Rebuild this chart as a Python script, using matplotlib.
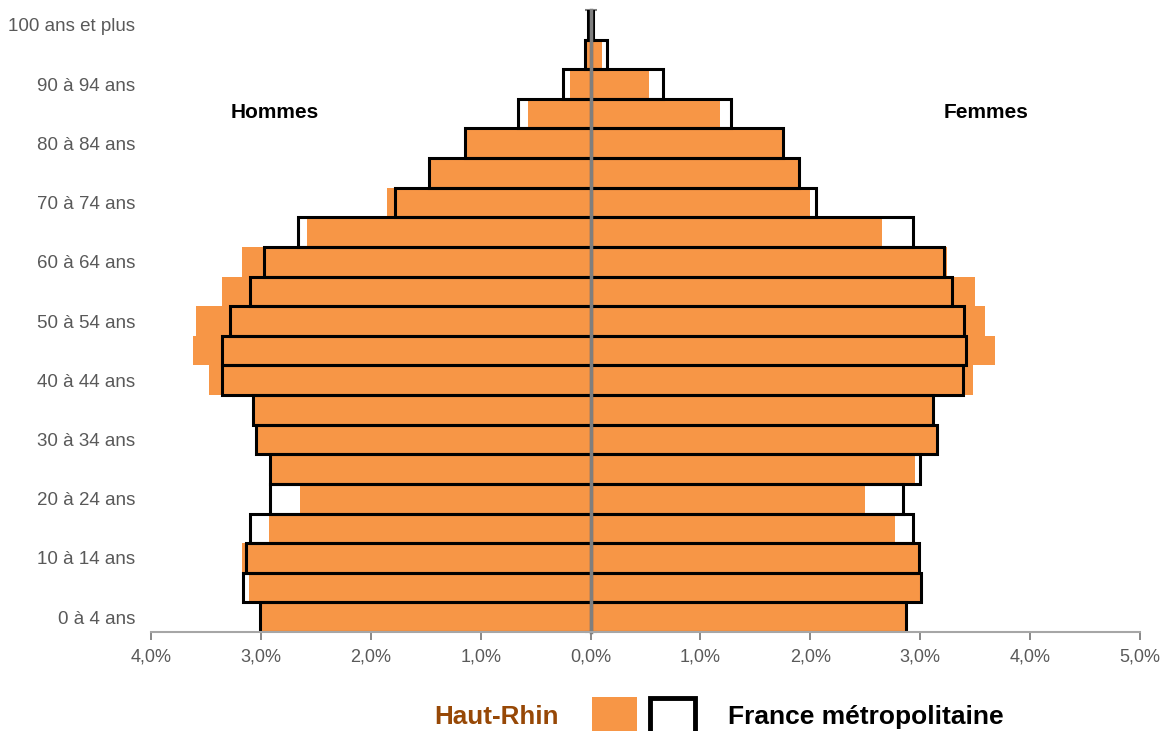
import matplotlib
matplotlib.use("Agg")
import matplotlib.pyplot as plt
from matplotlib.patches import Rectangle
from matplotlib.ticker import FixedLocator, FuncFormatter
import numpy as np

plt.rcParams['font.family'] = ['Liberation Sans', 'DejaVu Sans']

age_groups = ["0 à 4 ans", "5 à 9 ans", "10 à 14 ans", "15 à 19 ans", "20 à 24 ans",
              "25 à 29 ans", "30 à 34 ans", "35 à 39 ans", "40 à 44 ans", "45 à 49 ans",
              "50 à 54 ans", "55 à 59 ans", "60 à 64 ans", "65 à 69 ans", "70 à 74 ans",
              "75 à 79 ans", "80 à 84 ans", "85 à 89 ans", "90 à 94 ans", "95 à 99 ans",
              "100 ans et plus"]

# Haut-Rhin (% of population)
hr_hommes = [3.00, 3.11, 3.17, 2.93, 2.64, 2.90, 3.03, 3.06, 3.47, 3.62, 3.59, 3.35,
             3.17, 2.58, 1.85, 1.46, 1.12, 0.57, 0.19, 0.03, 0.01]
hr_femmes = [2.86, 3.00, 2.98, 2.77, 2.50, 2.95, 3.14, 3.12, 3.48, 3.68, 3.59, 3.50,
             3.24, 2.65, 2.00, 1.90, 1.75, 1.18, 0.53, 0.10, 0.02]
# France métropolitaine
fr_hommes = [3.01, 3.16, 3.14, 3.10, 2.92, 2.92, 3.04, 3.07, 3.35, 3.35, 3.28, 3.10,
             2.97, 2.66, 1.78, 1.47, 1.14, 0.66, 0.25, 0.05, 0.02]
fr_femmes = [2.87, 3.01, 2.99, 2.93, 2.84, 3.00, 3.15, 3.12, 3.39, 3.42, 3.40, 3.29,
             3.22, 2.93, 2.05, 1.90, 1.75, 1.28, 0.66, 0.15, 0.025]

xticks = [-4, -3, -2, -1, 0, 1, 2, 3, 4, 5]

ORANGE = '#F79646'
GRAY = '#7F7F7F'
TXT = '#595959'

fig = plt.figure(figsize=(11.6, 7.31), dpi=100)
ax = fig.add_axes([151/1160, 1-632/731, (1140-151)/1160, (632-10)/731])

y = np.arange(len(age_groups))
ax.barh(y, -np.array(hr_hommes), height=1.0, color=ORANGE, linewidth=0, zorder=1)
ax.barh(y, np.array(hr_femmes), height=1.0, color=ORANGE, linewidth=0, zorder=1)
ax.barh(y, -np.array(fr_hommes), height=1.0, fill=False, edgecolor='black', linewidth=2.2, zorder=2)
ax.barh(y, np.array(fr_femmes), height=1.0, fill=False, edgecolor='black', linewidth=2.2, zorder=2)

ax.set_xlim(-4, 5)
ax.set_ylim(-0.5, len(age_groups) - 0.5)

ax.set_xticks(xticks)
ax.xaxis.set_major_formatter(FuncFormatter(lambda v, p: f"{abs(v):.1f}%".replace('.', ',')))
ax.tick_params(axis='x', colors=GRAY, labelcolor=TXT, labelsize=13, length=6, width=1.3, pad=6)

ax.set_yticks(y[::2])
ax.set_yticklabels(age_groups[::2])
ax.yaxis.set_minor_locator(FixedLocator(np.arange(-0.5, len(age_groups), 1.0)))
ax.tick_params(axis='y', which='major', left=True, right=False, length=0, labelsize=13.5,
               labelcolor=TXT, pad=11.5)
ax.tick_params(axis='y', which='minor', left=False, right=True, direction='inout',
               length=9, width=1.5, color=GRAY)
for lbl in ax.get_yticklabels():
    lbl.set_y(lbl.get_position()[1])

for s in ['top', 'left']:
    ax.spines[s].set_visible(False)
ax.spines['right'].set_position(('data', 0))
ax.spines['right'].set_color(GRAY)
ax.spines['right'].set_linewidth(2.5)
ax.spines['bottom'].set_color('#A6A6A6')
ax.spines['bottom'].set_linewidth(1.5)

fig.text(275/1160, 1-113/731, "Hommes", ha='center', va='center', fontsize=15, fontweight='bold')
fig.text(986/1160, 1-113/731, "Femmes", ha='center', va='center', fontsize=15, fontweight='bold')

# legend
fig.text(496/1160, 1-717/731, "Haut-Rhin", ha='center', va='center', fontsize=18.7,
         fontweight='bold', color='#974806')
fig.patches.append(Rectangle((592/1160, 0), 45/1160, (731-697)/731, transform=fig.transFigure,
                             facecolor=ORANGE, edgecolor='none'))
fig.patches.append(Rectangle((650/1160, -0.02), 45/1160, (731-698)/731 + 0.02, transform=fig.transFigure,
                             facecolor='none', edgecolor='black', linewidth=3.5))
fig.text(728/1160, 1-717/731, "France métropolitaine", ha='left', va='center', fontsize=19,
         fontweight='bold', color='black')

fig.savefig("out.png", dpi=100)
